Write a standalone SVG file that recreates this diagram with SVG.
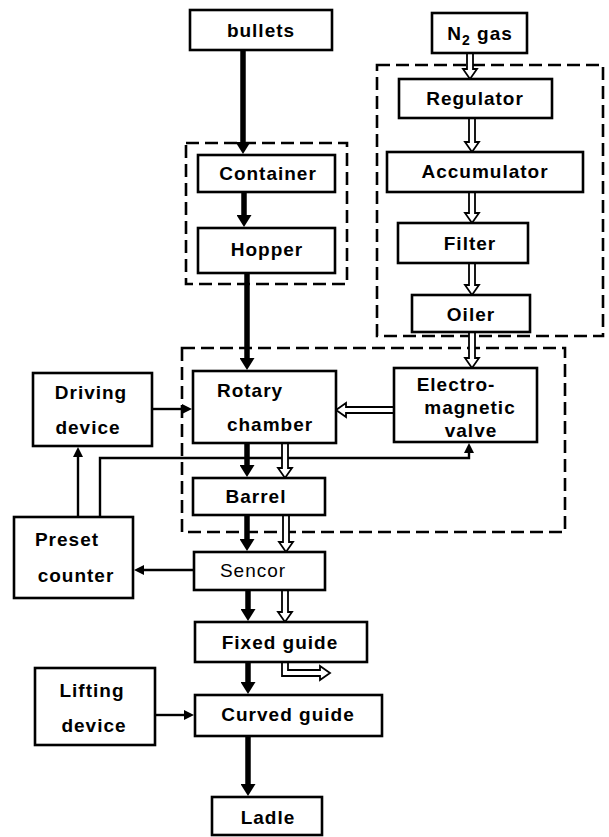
<svg xmlns="http://www.w3.org/2000/svg" width="609" height="837" viewBox="0 0 609 837">
<style>
.box{fill:#fff;stroke:#000;stroke-width:2.6}
.grp{fill:none;stroke:#000;stroke-width:2.6;stroke-dasharray:13 6}
.t{font-family:"Liberation Sans",Arial,sans-serif;font-weight:bold;font-size:19px;letter-spacing:1px;text-anchor:middle;fill:#000}
.n{font-weight:normal}
.thick{stroke:#000;stroke-width:5.5;fill:none}
.thin{stroke:#000;stroke-width:2.4;fill:none}
.hollow{fill:#fff;stroke:#000;stroke-width:1.8;stroke-linejoin:miter}
</style>
<defs>
<marker id="big" markerUnits="userSpaceOnUse" markerWidth="13" markerHeight="15" refX="1" refY="7.5" orient="auto"><path d="M0,0 L12,7.5 L0,15 z" fill="#000"/></marker>
<marker id="small" markerUnits="userSpaceOnUse" markerWidth="11" markerHeight="11" refX="1" refY="5" orient="auto"><path d="M0,0 L10,5 L0,10 z" fill="#000"/></marker>
</defs>

<g id="groups">
<rect class="grp" x="186" y="143" width="161" height="141"/>
<rect class="grp" x="377" y="65" width="226" height="271"/>
<rect class="grp" x="182" y="348" width="383" height="184"/>
</g>

<g id="connectors">
<path class="thin" d="M100,517 V458 H469 V452" marker-end="url(#small)"/>
<line class="thin" x1="78" y1="517" x2="78" y2="456" marker-end="url(#small)"/>
<line class="thin" x1="152" y1="409" x2="183" y2="409" marker-end="url(#small)"/>
<line class="thin" x1="194" y1="570" x2="143" y2="570" marker-end="url(#small)"/>
<line class="thin" x1="155" y1="715" x2="185" y2="715" marker-end="url(#small)"/>
<line class="thick" x1="243" y1="50" x2="243" y2="143" marker-end="url(#big)"/>
<line class="thick" x1="244" y1="192" x2="244" y2="216" marker-end="url(#big)"/>
<line class="thick" x1="247" y1="273" x2="247" y2="359" marker-end="url(#big)"/>
<line class="thick" x1="247" y1="443" x2="247" y2="466" marker-end="url(#big)"/>
<line class="thick" x1="247" y1="515" x2="247" y2="540" marker-end="url(#big)"/>
<line class="thick" x1="248" y1="590" x2="248" y2="610" marker-end="url(#big)"/>
<line class="thick" x1="248" y1="662" x2="248" y2="683" marker-end="url(#big)"/>
<line class="thick" x1="248" y1="736" x2="248" y2="785" marker-end="url(#big)"/>
<path class="hollow" d="M467,53 V69 H463 L470,79 L477,69 H473 V53"/>
<path class="hollow" d="M469,118 V142 H465 L472,152 L479,142 H475 V118"/>
<path class="hollow" d="M469,192 V213 H465 L472,223 L479,213 H475 V192"/>
<path class="hollow" d="M469,263 V285 H465 L472,295 L479,285 H475 V263"/>
<path class="hollow" d="M469,332 V358 H465 L472,368 L479,358 H475 V332"/>
<path class="hollow" d="M394,407 H346 V403 L336,410 L346,417 V413 H394"/>
<path class="hollow" d="M282,443 V468 H278 L285,478 L292,468 H288 V443"/>
<path class="hollow" d="M283,515 V542 H279 L286,552 L293,542 H289 V515"/>
<path class="hollow" d="M282,590 V612 H278 L285,622 L292,612 H288 V590"/>
<path class="hollow" d="M282,662 V676 H320 V680 L330,673 L320,666 V670 H288 V662"/>
</g>

<g id="bullets"><rect class="box" x="190" y="10" width="142" height="40"/><text class="t" x="261" y="37">bullets</text></g>
<g id="n2gas"><rect class="box" x="432" y="13" width="95" height="40"/><text class="t" x="480" y="40">N<tspan font-size="14" dy="5">2</tspan><tspan dy="-5"> gas</tspan></text></g>
<g id="container"><rect class="box" x="198" y="155" width="137" height="37"/><text class="t" x="268" y="180">Container</text></g>
<g id="hopper"><rect class="box" x="198" y="228" width="137" height="45"/><text class="t" x="267" y="256">Hopper</text></g>
<g id="regulator"><rect class="box" x="399" y="79" width="153" height="39"/><text class="t" x="475" y="105">Regulator</text></g>
<g id="accumulator"><rect class="box" x="387" y="152" width="196" height="40"/><text class="t" x="485" y="178">Accumulator</text></g>
<g id="filter"><rect class="box" x="398" y="223" width="130" height="40"/><text class="t" x="470" y="250">Filter</text></g>
<g id="oiler"><rect class="box" x="412" y="295" width="118" height="37"/><text class="t" x="471" y="321">Oiler</text></g>
<g id="driving"><rect class="box" x="33" y="373" width="119" height="73"/><text class="t" x="91" y="399">Driving</text><text class="t" x="88" y="434">device</text></g>
<g id="rotary"><rect class="box" x="193" y="371" width="143" height="72"/><text class="t" x="250" y="397">Rotary</text><text class="t" x="270" y="431">chamber</text></g>
<g id="valve"><rect class="box" x="394" y="368" width="143" height="74"/><text class="t" x="456" y="391">Electro-</text><text class="t" x="470" y="414">magnetic</text><text class="t" x="471" y="437">valve</text></g>
<g id="barrel"><rect class="box" x="193" y="478" width="132" height="37"/><text class="t" x="256" y="503">Barrel</text></g>
<g id="preset"><rect class="box" x="14" y="517" width="119" height="81"/><text class="t" x="67" y="546">Preset</text><text class="t" x="76" y="582">counter</text></g>
<g id="sensor"><rect class="box" x="194" y="552" width="131" height="38"/><text class="t n" x="253" y="577">Sencor</text></g>
<g id="fixed"><rect class="box" x="195" y="622" width="172" height="40"/><text class="t" x="280" y="649">Fixed guide</text></g>
<g id="lifting"><rect class="box" x="35" y="668" width="120" height="77"/><text class="t" x="92" y="697">Lifting</text><text class="t" x="94" y="732">device</text></g>
<g id="curved"><rect class="box" x="195" y="695" width="187" height="41"/><text class="t" x="288" y="721">Curved guide</text></g>
<g id="ladle"><rect class="box" x="212" y="797" width="110" height="38"/><text class="t" x="268" y="824">Ladle</text></g>
</svg>
